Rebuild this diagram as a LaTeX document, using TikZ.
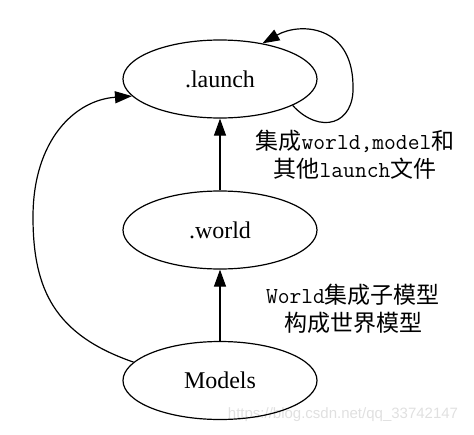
\documentclass[tikz,border=0pt]{standalone}
\usepackage{fontspec}
\setmainfont{Liberation Serif}
\newfontfamily\cjk{Noto Sans CJK SC}
\newfontfamily\wmfont{Liberation Sans}
\usetikzlibrary{shapes.geometric,arrows.meta}
\begin{document}
\begin{tikzpicture}[x=1pt,y=1pt,
  ell/.style={draw,ellipse,line width=1.2pt,minimum width=194pt,minimum height=78pt,inner sep=0pt,font=\fontsize{24}{28}\selectfont},
  conn/.style={line width=1.2pt,-{Triangle[length=17pt,width=12pt]}},
  lbl/.style={align=center,font=\fontsize{23}{28}\selectfont},
  tt/.style={}]
\useasboundingbox (0,0) rectangle (474,-434);
\node[text=black!12,font=\wmfont\fontsize{15}{18}\selectfont] (wm) at (343,-415) {https://blog.csdn.net/qq\_33742147};
\node[ell,fill=white] (launch) at (220,-79) {.launch};
\node[ell,fill=white] (world) at (220,-230) {.world};
\node[ell] (models) at (220,-380.5) {Models};
\node[lbl] (l1) at (355,-155) {{\cjk 集成}{\ttfamily\fontsize{22.9}{28}\selectfont world,model}{\cjk 和}\\{\cjk 其他}{\ttfamily\fontsize{22.9}{28}\selectfont launch}{\cjk 文件}};
\node[lbl] (l2) at (353,-309) {{\ttfamily\fontsize{22.9}{28}\selectfont World}{\cjk 集成子模型}\\{\cjk 构成世界模型}};
\draw[conn] (world) -- (launch);
\draw[conn] (models) -- (world);
\draw[conn] (models.168.6) .. controls (55,-335) and (33,-290) .. (33,-217) .. controls (33,-140) and (75,-100) .. (launch.191);
\draw[conn] (launch.340) .. controls (320,-135) and (355,-125) .. (353,-85) .. controls (352,-25) and (300,-22) .. (launch.40);
\end{tikzpicture}
\end{document}
